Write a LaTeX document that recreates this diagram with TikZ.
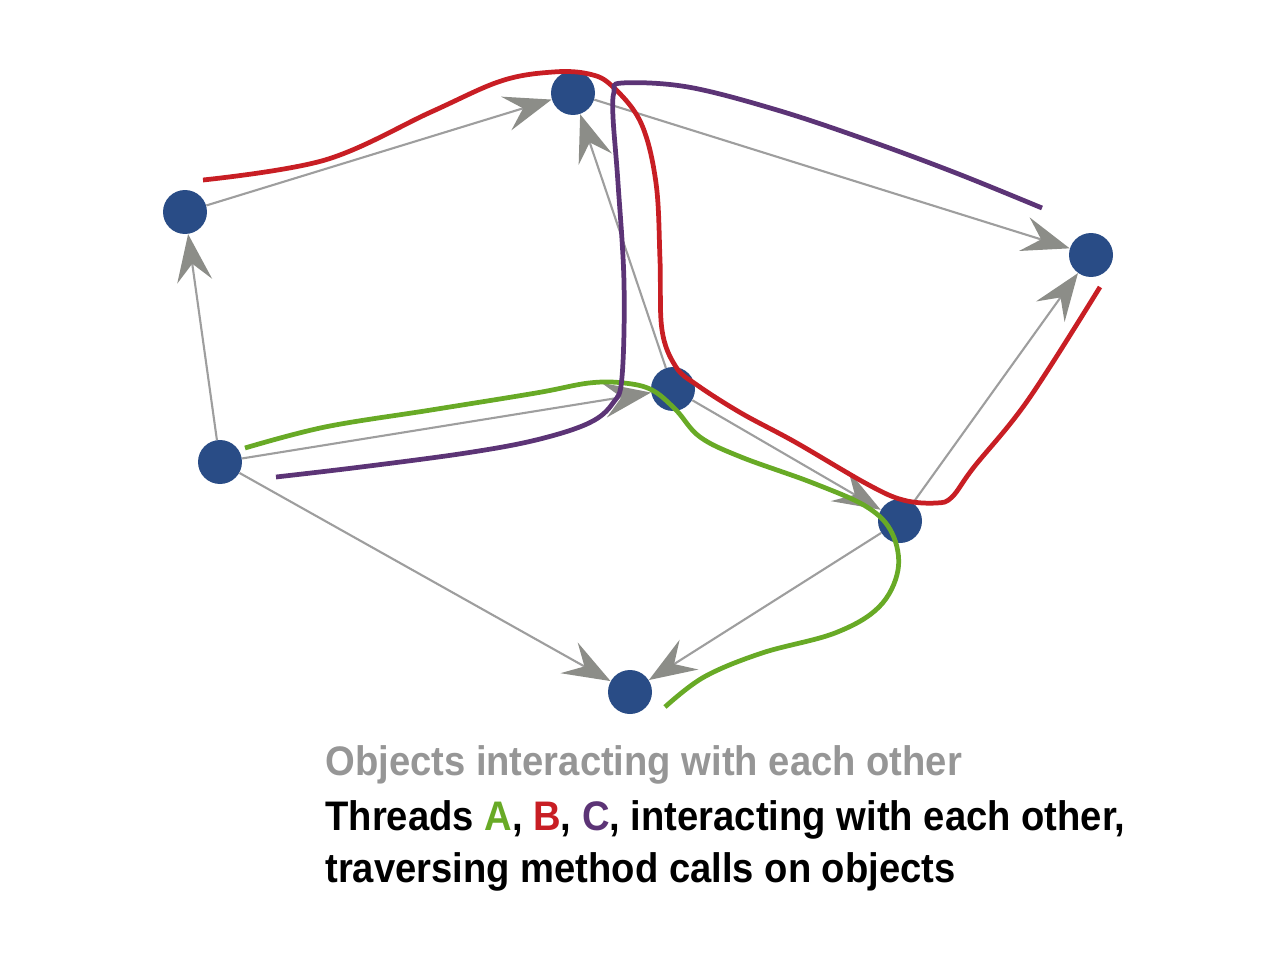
\documentclass[tikz,border=0pt]{standalone}
\usepackage{fontspec}
\newfontfamily\capfont[FakeStretch=0.925]{Liberation Sans}
\usetikzlibrary{arrows.meta}
\definecolor{objblue}{RGB}{41,76,134}
\definecolor{callgray}{RGB}{158,158,158}
\definecolor{headgray}{RGB}{140,141,136}
\definecolor{threadA}{RGB}{104,170,38}
\definecolor{threadB}{RGB}{200,30,36}
\definecolor{threadC}{RGB}{92,52,118}
\definecolor{capgray}{RGB}{150,150,150}

\begin{document}
\begin{tikzpicture}[x=0.02cm,y=-0.02cm,
  obj/.style={circle,fill=objblue,inner sep=0pt,minimum size=0.88cm},
  call/.style={draw=callgray,line width=1.2pt,-{Stealth[length=27pt,width=20pt,inset=10pt,color=headgray]}},
  thread/.style={line width=2.7pt,line cap=butt},
  legend/.style={anchor=base west,inner sep=0pt,font=\capfont\bfseries\fontsize{23.5}{28}\selectfont}]
\useasboundingbox (0,0) rectangle (1272,974);
%objects
\node[obj] (N1) at (185,212) {};
\node[obj] (N2) at (573,93) {};
\node[obj] (N3) at (1091,255) {};
\node[obj] (N4) at (673,389) {};
\node[obj] (N5) at (900,521) {};
\node[obj] (N6) at (220,462) {};
\node[obj] (N7) at (630,692) {};
%method calls
\draw[call] (N6) -- (N1);
\draw[call] (N1) -- (N2);
\draw[call] (N2) -- (N3);
\draw[call,{Stealth[length=27pt,width=20pt,inset=10pt,color=headgray]}-] (N2) -- (N4);
\draw[call] (N6) -- (N4);
\draw[call] (N4) -- (N5);
\draw[call] (N5) -- (N3);
\draw[call] (N6) -- (N7);
\draw[call] (N5) -- (N7);
%thread A
\draw[thread,threadA] plot[smooth,tension=0.6] coordinates {(245,448) (325,427) (431,410) (536,393) (589,383) (624,383) (652,390) (676,410) (700,437) (741,457) (813,483) (867,507) (892,533) (898,570) (879,607) (835,633) (762,653) (704,677) (665,707)};
%thread B
\draw[thread,threadB] plot[smooth,tension=0.6] coordinates {(203,180) (325,160) (431,112) (501,81) (553,72) (589,74) (612,86) (641,123) (656,183) (660,260) (662,330) (676,367) (697,385) (741,413) (795,442) (867,484) (903,500) (936,503) (952,497) (974,467) (1028,400) (1100,287)};
%thread C
\draw[thread,threadC] plot[smooth,tension=0.6] coordinates {(276,477) (361,467) (466,453) (536,440) (589,423) (613,403) (622,377) (624,283) (618,183) (613,117) (614,92) (622,83) (688,87) (777,110) (867,140) (956,173) (1042,208)};
%legend
\node[legend,text=capgray] (objs) at (325,775) {Objects interacting with each other};
\node[legend] (thr) at (325,830) {Threads \textcolor{threadA}{A}, \textcolor{threadB}{B}, \textcolor{threadC}{C}, interacting with each other,};
\node[legend] (trav) at (325,882) {traversing method calls on objects};
\end{tikzpicture}
\end{document}
